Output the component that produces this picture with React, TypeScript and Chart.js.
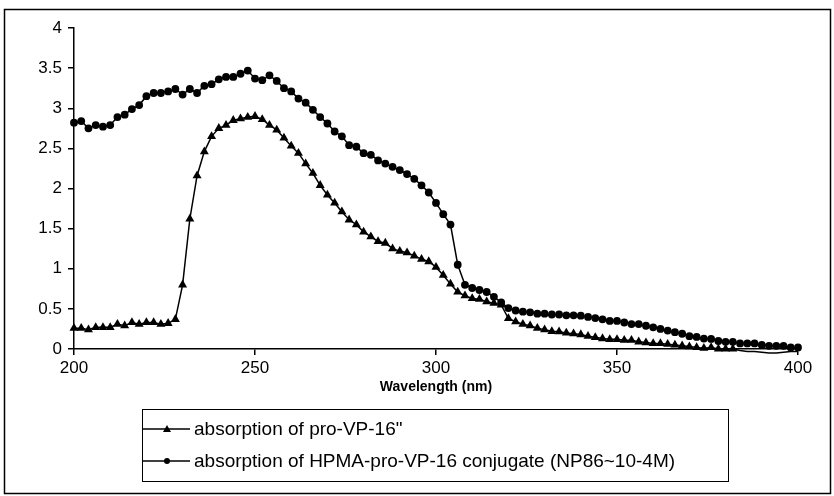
import React, { useEffect, useRef } from 'react';
import { Chart, registerables } from 'chart.js';

Chart.register(...registerables);

const wavelengths = [
  200, 202, 204, 206, 208, 210, 212, 214, 216, 218, 220, 222, 224, 226, 228, 230, 232, 234, 236, 238,
  240, 242, 244, 246, 248, 250, 252, 254, 256, 258, 260, 262, 264, 266, 268, 270, 272, 274, 276, 278,
  280, 282, 284, 286, 288, 290, 292, 294, 296, 298, 300, 302, 304, 306, 308, 310, 312, 314, 316, 318,
  320, 322, 324, 326, 328, 330, 332, 334, 336, 338, 340, 342, 344, 346, 348, 350, 352, 354, 356, 358,
  360, 362, 364, 366, 368, 370, 372, 374, 376, 378, 380, 382, 384, 386, 388, 390, 392, 394, 396, 398,
  400,
];

const proVP16 = [
  0.26, 0.26, 0.24, 0.27, 0.27, 0.27, 0.31, 0.29, 0.33, 0.31, 0.33, 0.33, 0.31, 0.32, 0.37, 0.8, 1.62, 2.16, 2.46, 2.65,
  2.75, 2.79, 2.85, 2.87, 2.89, 2.9, 2.86, 2.79, 2.73, 2.63, 2.53, 2.44, 2.31, 2.19, 2.04, 1.92, 1.82, 1.71, 1.61, 1.55,
  1.46, 1.4, 1.34, 1.32, 1.25, 1.22, 1.2, 1.16, 1.12, 1.09, 1.02, 0.92, 0.81, 0.71, 0.665, 0.63, 0.62, 0.59, 0.57, 0.55,
  0.38, 0.34, 0.31, 0.29, 0.26, 0.24, 0.22, 0.215, 0.2, 0.19, 0.18, 0.16, 0.145, 0.13, 0.12, 0.12, 0.11, 0.11, 0.09, 0.08,
  0.07, 0.07, 0.06, 0.05, 0.04, 0.03, 0.02, 0.01, 0.02, 0.0, 0.0, 0.0, -0.02, -0.03, -0.03, -0.04, -0.05, -0.05, -0.04, -0.03,
  -0.03,
];

const conjugate = [
  2.82, 2.84, 2.75, 2.79, 2.77, 2.79, 2.89, 2.92, 2.99, 3.04, 3.15, 3.19, 3.19, 3.21, 3.24, 3.17, 3.24, 3.19, 3.28, 3.3,
  3.36, 3.39, 3.39, 3.43, 3.47, 3.37, 3.35, 3.41, 3.34, 3.25, 3.21, 3.12, 3.07, 2.98, 2.89, 2.81, 2.71, 2.65, 2.54, 2.52,
  2.44, 2.42, 2.35, 2.31, 2.27, 2.23, 2.18, 2.12, 2.04, 1.95, 1.82, 1.68, 1.55, 1.05, 0.8, 0.76, 0.735, 0.71, 0.65, 0.58,
  0.51, 0.48, 0.465, 0.457, 0.44, 0.44, 0.43, 0.43, 0.42, 0.42, 0.415, 0.4, 0.385, 0.37, 0.35, 0.35, 0.33, 0.31, 0.31, 0.29,
  0.27, 0.25, 0.23, 0.21, 0.19, 0.16, 0.15, 0.13, 0.125, 0.1, 0.09, 0.09, 0.07, 0.07, 0.07, 0.05, 0.04, 0.04, 0.04, 0.02,
  0.02,
];

const seriesLabels = [
  'absorption of pro-VP-16"',
  'absorption of HPMA-pro-VP-16 conjugate (NP86~10-4M)',
];
const pointStyles = ['triangle', 'circle'];
const xTitle = 'Wavelength (nm)';

const FONT = "'Liberation Sans', Arial, sans-serif";

const framePlugin = {
  id: 'frameAndLegend',
  afterDraw(chart: any) {
    const ctx = chart.ctx as CanvasRenderingContext2D;
    ctx.save();
    ctx.strokeStyle = '#000';
    ctx.lineWidth = 1.5;
    ctx.strokeRect(4.5, 9.5, 826, 484);

    // legend box
    const L = 142;
    const T = 409;
    const W = 586;
    const H = 72;
    ctx.lineWidth = 1;
    ctx.strokeRect(L + 0.5, T + 0.5, W, H);
    ctx.font = `19px ${FONT}`;
    ctx.fillStyle = '#000';
    ctx.textBaseline = 'middle';
    ctx.textAlign = 'left';
    chart.data.datasets.forEach((ds: any, i: number) => {
      const y = T + 20 + i * 32;
      ctx.beginPath();
      ctx.lineWidth = 1.5;
      ctx.moveTo(L + 1, y);
      ctx.lineTo(L + 48, y);
      ctx.stroke();
      const cx = L + 25;
      ctx.beginPath();
      if (pointStyles[i] === 'triangle') {
        ctx.moveTo(cx, y - 4);
        ctx.lineTo(cx + 4, y + 3);
        ctx.lineTo(cx - 4, y + 3);
        ctx.closePath();
      } else {
        ctx.arc(cx, y, 3, 0, Math.PI * 2);
      }
      ctx.fill();
      ctx.fillText(ds.label, L + 52, y + 1);
    });
    ctx.restore();
  },
};

export default function App() {
  const ref = useRef<HTMLCanvasElement | null>(null);

  useEffect(() => {
    if (!ref.current) return;
    const makeData = (vals: number[]) => wavelengths.map((w, i) => ({ x: w, y: vals[i] }));
    const chart = new Chart(ref.current, {
      type: 'line',
      data: {
        datasets: [
          {
            label: seriesLabels[0],
            data: makeData(proVP16),
            borderColor: '#000',
            backgroundColor: '#000',
            borderWidth: 1.5,
            pointStyle: 'triangle',
            pointRadius: (c: any) => (c.raw && c.raw.y < 0 ? 0 : 5.2),
            pointBorderWidth: 0,
            pointBackgroundColor: '#000',
            tension: 0,
            clip: false as any,
          },
          {
            label: seriesLabels[1],
            data: makeData(conjugate),
            borderColor: '#000',
            backgroundColor: '#000',
            borderWidth: 1.5,
            pointStyle: 'circle',
            pointRadius: 3.9,
            pointBorderWidth: 0,
            pointBackgroundColor: '#000',
            tension: 0,
            clip: false as any,
          },
        ],
      },
      options: {
        animation: false,
        responsive: false,
        devicePixelRatio: 1,
        layout: { padding: { top: 28, right: 36, bottom: 97, left: 0 } },
        plugins: {
          legend: { display: false },
          tooltip: { enabled: false },
        },
        scales: {
          x: {
            type: 'linear',
            min: 200,
            max: 400,
            ticks: { stepSize: 50, color: '#000', font: { family: FONT, size: 17 }, padding: 3, maxRotation: 0 },
            grid: { display: true, drawOnChartArea: false, drawTicks: true, tickLength: 6, color: '#000', lineWidth: 1.5 },
            border: { display: true, color: '#000', width: 1.5 },
            title: {
              display: true,
              text: xTitle,
              color: '#000',
              font: { family: FONT, size: 14, weight: 'bold' },
              padding: { top: 0, bottom: 3 },
            },
            afterFit: (s: any) => {
              s.height = 50;
            },
          },
          y: {
            min: 0,
            max: 4,
            ticks: {
              stepSize: 0.5,
              color: '#000',
              font: { family: FONT, size: 17 },
              padding: 6,
              callback: (v: any) => String(Number(v)),
            },
            grid: { display: true, drawOnChartArea: false, drawTicks: true, tickLength: 6, color: '#000', lineWidth: 1.5 },
            border: { display: true, color: '#000', width: 1.5 },
            afterFit: (s: any) => {
              s.width = 74;
            },
          },
        },
      },
      plugins: [framePlugin],
    });
    return () => chart.destroy();
  }, []);

  return (
    <div style={{ position: 'fixed', left: 0, top: 0, width: 834, height: 496, background: '#fff' }}>
      <canvas ref={ref} width={834} height={496} style={{ display: 'block', width: 834, height: 496 }} />
    </div>
  );
}
